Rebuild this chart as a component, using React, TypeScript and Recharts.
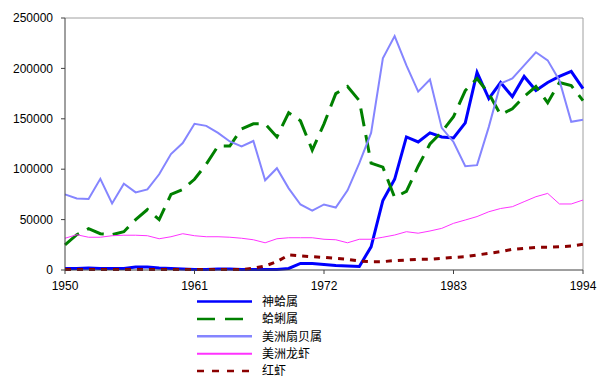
import { LineChart, Line, XAxis, YAxis, ReferenceLine } from 'recharts'

const YEARS = [
  1950, 1951, 1952, 1953, 1954, 1955, 1956, 1957, 1958, 1959,
  1960, 1961, 1962, 1963, 1964, 1965, 1966, 1967, 1968, 1969,
  1970, 1971, 1972, 1973, 1974, 1975, 1976, 1977, 1978, 1979,
  1980, 1981, 1982, 1983, 1984, 1985, 1986, 1987, 1988, 1989,
  1990, 1991, 1992, 1993, 1994,
]

// 神蛤属
const GEODUCK = [
  1500, 1500, 2000, 1500, 1500, 1500, 3000, 3000, 2000, 1500,
  1000, 500, 500, 1000, 1000, 500, 500, 500, 500, 1500,
  6500, 6500, 5500, 4500, 4000, 3500, 23000, 69000, 90000, 132000,
  127000, 136000, 132000, 131000, 146000, 196000, 170000, 186000, 172000, 192000,
  178000, 186000, 192000, 197000, 180000,
]

// 蛤蜊属
const CLAM = [
  25000, 35000, 41000, 36000, 35000, 38000, 50000, 60000, 50000, 75000,
  80000, 90000, 105000, 123000, 123000, 140000, 145000, 145000, 132000, 156000,
  148000, 119000, 145000, 175000, 182000, 168000, 106000, 102000, 72000, 78000,
  103000, 125000, 137000, 152000, 178000, 190000, 175000, 154000, 160000, 172000,
  182000, 166000, 186000, 183000, 168000,
]

// 美洲扇贝属
const SCALLOP = [
  75000, 71000, 70500, 90500, 66000, 85500, 77000, 80000, 95000, 115000,
  126000, 145000, 143000, 136000, 127500, 122500, 128000, 89000, 101000, 81000,
  65000, 59000, 65000, 62000, 79000, 106000, 136000, 210000, 232000, 203000,
  177000, 189000, 141000, 127000, 103000, 104000, 142000, 185000, 190000, 203000,
  216000, 208000, 188000, 147000, 149000,
]

// 美洲龙虾
const LOBSTER = [
  31500, 35000, 32500, 32500, 34000, 34500, 34500, 34000, 31000, 33000,
  36000, 34000, 33000, 33000, 32500, 31500, 30000, 27000, 31000, 32000,
  32000, 32000, 30500, 30000, 27000, 30500, 30500, 32500, 34700, 38000,
  36500, 38700, 41300, 46300, 49600, 53000, 57800, 61000, 62800, 67800,
  72700, 76000, 65500, 65500, 69400,
]

// 红虾
const SHRIMP = [
  500, 500, 500, 500, 500, 500, 500, 500, 500, 500,
  500, 500, 500, 500, 500, 500, 1700, 4000, 8300, 14900,
  14000, 13200, 12500, 11600, 10600, 8900, 8300, 8300, 9300, 9900,
  10600, 10600, 11600, 12500, 13200, 14900, 16500, 18200, 20500, 21500,
  22500, 22500, 23100, 23800, 25500,
]

const X_TICKS = [1950, 1961, 1972, 1983, 1994]
const Y_TICKS = [0, 50000, 100000, 150000, 200000, 250000]

const SERIES = [
  { key: 'geoduck', name: '神蛤属', color: '#0000ff', width: 3, dash: undefined, legendDash: undefined },
  { key: 'clam', name: '蛤蜊属', color: '#008000', width: 3, dash: '18 9', legendDash: '18 10' },
  { key: 'scallop', name: '美洲扇贝属', color: '#8585ff', width: 2, dash: undefined, legendDash: undefined },
  { key: 'lobster', name: '美洲龙虾', color: '#ff33ff', width: 1, dash: undefined, legendDash: undefined },
  { key: 'shrimp', name: '红虾', color: '#8b0000', width: 3, dash: '6 6', legendDash: '7 8' },
]

const data = YEARS.map((year, i) => ({
  year,
  geoduck: GEODUCK[i],
  clam: CLAM[i],
  scallop: SCALLOP[i],
  lobster: LOBSTER[i],
  shrimp: SHRIMP[i],
}))

const tickFont = { fontFamily: 'Liberation Sans, Arial, sans-serif', fontSize: 12, fill: '#000' }

const App = () => {
  return (
    <div style={{ position: 'absolute', left: 0, top: 0, width: 600, height: 378, background: '#fff' }}>
      <LineChart
        width={600}
        height={378}
        data={data}
        margin={{ top: 18, right: 17, left: 0, bottom: 88 }}
      >
        <XAxis
          dataKey='year'
          type='number'
          domain={[1950, 1994]}
          ticks={X_TICKS}
          interval={0}
          height={20}
          tickSize={4}
          tickMargin={7}
          stroke='#404040'
          tick={tickFont}
        />
        <YAxis
          type='number'
          domain={[0, 250000]}
          ticks={Y_TICKS}
          interval={0}
          width={65}
          tickSize={4}
          tickMargin={8}
          stroke='#404040'
          tick={tickFont}
        />
        <ReferenceLine y={250000} stroke='#a0a0a0' />
        <ReferenceLine x={1994} stroke='#a0a0a0' />
        {SERIES.map((s) => (
          <Line
            key={s.key}
            dataKey={s.key}
            name={s.name}
            type='linear'
            stroke={s.color}
            strokeWidth={s.width}
            strokeDasharray={s.dash}
            dot={false}
            activeDot={false}
            isAnimationActive={false}
          />
        ))}
      </LineChart>
      {/* legend sits under the plot, left of centre */}
      <svg
        width={200}
        height={86}
        style={{ position: 'absolute', left: 190, top: 292 }}
      >
        {SERIES.map((s, i) => {
          const y = 9.5 + i * 17.4
          return (
            <g key={s.key}>
              <line
                x1={7}
                x2={62}
                y1={y}
                y2={y}
                stroke={s.color}
                strokeWidth={s.width === 1 ? 2 : 2.5}
                strokeDasharray={s.legendDash}
              />
              <text
                x={72}
                y={y}
                dy='0.35em'
                fontSize={12}
                fontFamily='Noto Sans CJK SC, sans-serif'
                fill='#000'
              >
                {s.name}
              </text>
            </g>
          )
        })}
      </svg>
    </div>
  )
}

export default App
